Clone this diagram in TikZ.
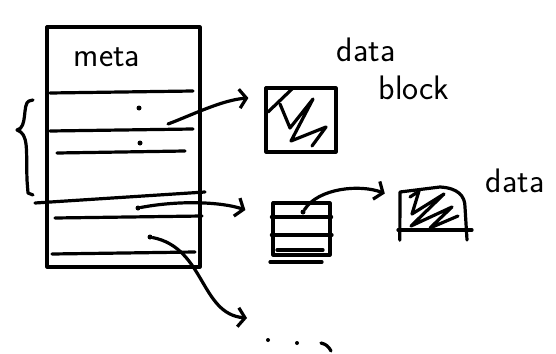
\documentclass[tikz,border=0pt]{standalone}
\usepackage{tikz}
\usetikzlibrary{arrows.meta,positioning,calc}
\tikzset{
  pen/.style  ={line width=3.2pt, line cap=round, line join=round},
  blk/.style  ={pen, draw, inner sep=0pt},
  arr/.style  ={pen, -{Straight Barb[length=7pt, width=19pt]}},
  lbl/.style  ={font=\sffamily\fontsize{34}{36}\selectfont, inner sep=0pt},
  ptr/.style  ={circle, fill, inner sep=0pt, minimum size=5pt},
}

\begin{document}
\begin{tikzpicture}[x=1pt, y=-1pt]
  \useasboundingbox (0,0) rectangle (556,353);

  % metadata column with its slots
  \node[blk, minimum width=153pt, minimum height=240pt] (meta) at (123.5,147) {};
  \node[lbl] (metalbl) at (107,57) {meta};
  \foreach \y/\l/\r in {92/50/193, 130/50/193, 152/57/185, 217/55/202, 253/52/195}
    \draw[pen] (\l,\y+1) -- (\r,\y-1);
  \draw[pen] (35,203) -- (205,192);

  % brace grouping the upper slots
  \draw[pen] (33,100) -- (29,101) .. controls (22,104) and (28,128) .. (17,130)
             .. controls (29,134) and (26,150) .. (27,180) -- (28,193) -- (33,195);

  % pointers stored in the slots
  \node[ptr] (p1) at (139,108) {};
  \node[ptr] (p2) at (140,143) {};
  \node[ptr] (p3) at (138,208) {};
  \node[ptr] (p4) at (150,237) {};
  \coordinate (a1) at (168,124);

  % plain data block
  \node[blk, minimum width=70pt, minimum height=64pt] (blk1) at (301,120) {};
  \draw[pen] (268,112) -- (292,89);
  \draw[pen] (280,104) -- (290,128) -- (313,99) -- (291,141) -- (326,127) -- (312,146);
  \node[lbl] (datalbl)  at (366,50) {data};
  \node[lbl] (blocklbl) at (414,88) {block};

  % indirect block holding further pointers
  \node[blk, minimum width=57pt, minimum height=52pt] (idx) at (301.5,229) {};
  \draw[pen] (idx.west|-0,217) -- (idx.east|-0,217);
  \draw[pen] (idx.west|-0,235) -- (332,235);
  \draw[pen] (277,250) -- (323,250);
  \draw[pen] (270,262) -- (322,262);
  \node[ptr] (p5) at (303,212) {};

  % data block reached through the indirect block
  \node[inner sep=0pt, minimum width=65pt, minimum height=53pt] (blk2) at (432.5,213.5) {};
  \draw[pen] (blk2.south west) -- (400,192) -- (440,187)
             .. controls (458,188) and (465,196) .. (465,207) -- (467,240);
  \draw[pen] (398,230) -- (472,230);
  \draw[pen] (410,197) -- (419,191) -- (412,214) -- (444,194) -- (411,226)
             -- (452,207) -- (430,228) -- (458,216);
  \node[lbl] (data2lbl) at (515,181) {data};

  % connectors
  \draw[arr] (a1) .. controls (192,115) and (222,100) .. ($(blk1.west)+(-16,-22)$);
  \draw[arr] (p3) .. controls (180,200) and (222,202) .. ($(idx.west)+(-26,-19)$);
  \draw[arr] (p5) .. controls (318,188) and (360,184) .. ($(blk2.west)+(-15,-20)$);
  \draw[arr] (p4) .. controls (205,248) and (200,314) .. (247,318);

  % more to follow
  \node[ptr, minimum size=4pt] (m1) at (268,340) {};
  \node[ptr, minimum size=4pt] (m2) at (297,343) {};
  \draw[pen] (321,343) .. controls (326,344) and (329,347) .. (331,351);
\end{tikzpicture}
\end{document}
